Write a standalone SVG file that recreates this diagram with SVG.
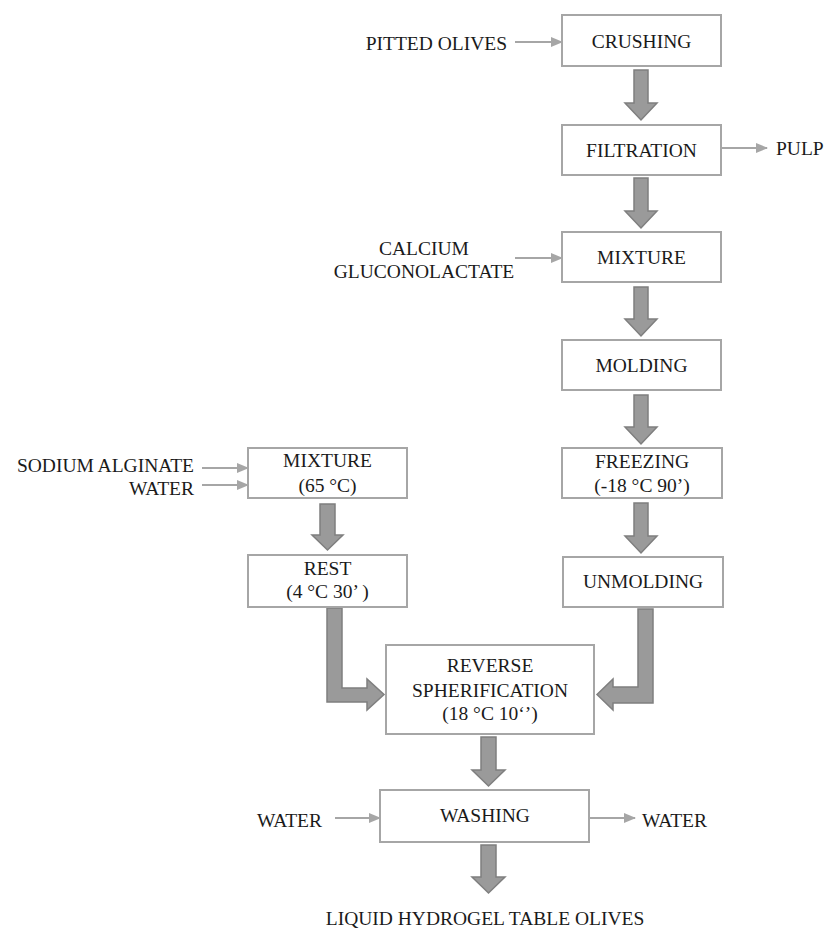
<svg xmlns="http://www.w3.org/2000/svg" width="826" height="931" viewBox="0 0 826 931">
<style>
.box{fill:#fff;stroke:#a6a6a6;stroke-width:2}
.t{font-family:"Liberation Serif","Times New Roman",serif;font-size:19.5px;fill:#1a1a1a}
.c{text-anchor:middle}
.e{text-anchor:end}
.thin{stroke:#a6a6a6;stroke-width:2;fill:none;marker-end:url(#ah)}
.big{fill:#9a9a9a;stroke:#7f7f7f;stroke-width:1.5;stroke-linejoin:miter}
</style>
<defs>
<marker id="ah" markerWidth="12" markerHeight="10" refX="11" refY="5" orient="auto" markerUnits="userSpaceOnUse">
<path d="M0,0 L12,5 L0,10 Z" fill="#a6a6a6"/>
</marker>
</defs>
<rect width="826" height="931" fill="#fff"/>
<g id="connectors">
<line class="thin" x1="515" y1="42" x2="562" y2="42"/>
<line class="thin" x1="721" y1="148" x2="767" y2="148"/>
<line class="thin" x1="515" y1="258" x2="562" y2="258"/>
<line class="thin" x1="202" y1="468" x2="248" y2="468"/>
<line class="thin" x1="202" y1="485" x2="248" y2="485"/>
<line class="thin" x1="335" y1="818" x2="380" y2="818"/>
<line class="thin" x1="589" y1="818" x2="635" y2="818"/>
<path class="big" d="M634,70 H648 V103 H657 L641,120 L625,103 H634 Z"/>
<path class="big" d="M634,178 H648 V211 H657 L641,228 L625,211 H634 Z"/>
<path class="big" d="M634,287 H648 V319 H657 L641,336 L625,319 H634 Z"/>
<path class="big" d="M634,395 H648 V427 H657 L641,444 L625,427 H634 Z"/>
<path class="big" d="M634,503 H648 V536 H657 L641,553 L625,536 H634 Z"/>
<path class="big" d="M320,504 H335 V535 H343 L327.5,550 L312,535 H320 Z"/>
<path class="big" d="M327,608 H342 V688 H367 V679 L384,694.5 L367,710 V702 H327 Z"/>
<path class="big" d="M653,609 H638 V687 H613 V679 L597,694.5 L613,710 V703 H653 Z"/>
<path class="big" d="M481,737 H496 V770 H505 L488.5,786 L472,770 H481 Z"/>
<path class="big" d="M481,845 H496 V877 H505 L488.5,893 L472,877 H481 Z"/>
</g>
<g id="crushing"><rect class="box" x="562" y="15" width="159" height="51"/><text class="t c" x="641.5" y="48">CRUSHING</text></g>
<g id="filtration"><rect class="box" x="562" y="125" width="159" height="50"/><text class="t c" x="641.5" y="157">FILTRATION</text></g>
<g id="mixture1"><rect class="box" x="562" y="232" width="159" height="50"/><text class="t c" x="641.5" y="264">MIXTURE</text></g>
<g id="molding"><rect class="box" x="562" y="340" width="159" height="50"/><text class="t c" x="641.5" y="372">MOLDING</text></g>
<g id="freezing"><rect class="box" x="562" y="448" width="160" height="50"/><text class="t c" x="642" y="468">FREEZING</text><text class="t c" x="642" y="492">(-18 °C 90’)</text></g>
<g id="unmolding"><rect class="box" x="563" y="557" width="160" height="50"/><text class="t c" x="643" y="588">UNMOLDING</text></g>
<g id="mixture2"><rect class="box" x="248" y="448" width="159" height="50"/><text class="t c" x="327.5" y="467">MIXTURE</text><text class="t c" x="327.5" y="492">(65 °C)</text></g>
<g id="rest"><rect class="box" x="248" y="555" width="159" height="52"/><text class="t c" x="327.5" y="575">REST</text><text class="t c" x="327.5" y="598">(4 °C 30’ )</text></g>
<g id="reverse"><rect class="box" x="386" y="645" width="208" height="89"/><text class="t c" x="490" y="672">REVERSE</text><text class="t c" x="490" y="697">SPHERIFICATION</text><text class="t c" x="490" y="720">(18 °C 10‘’)</text></g>
<g id="washing"><rect class="box" x="380" y="790" width="209" height="52"/><text class="t c" x="485" y="822">WASHING</text></g>
<g id="labels">
<text class="t e" x="507" y="50">PITTED OLIVES</text>
<text class="t" x="776" y="155">PULP</text>
<text class="t c" x="424" y="255">CALCIUM</text>
<text class="t c" x="424" y="278">GLUCONOLACTATE</text>
<text class="t e" x="194" y="472">SODIUM ALGINATE</text>
<text class="t e" x="194" y="495">WATER</text>
<text class="t" x="257" y="827">WATER</text>
<text class="t" x="642" y="827">WATER</text>
<text class="t c" x="485" y="925">LIQUID HYDROGEL TABLE OLIVES</text>
</g>
</svg>
